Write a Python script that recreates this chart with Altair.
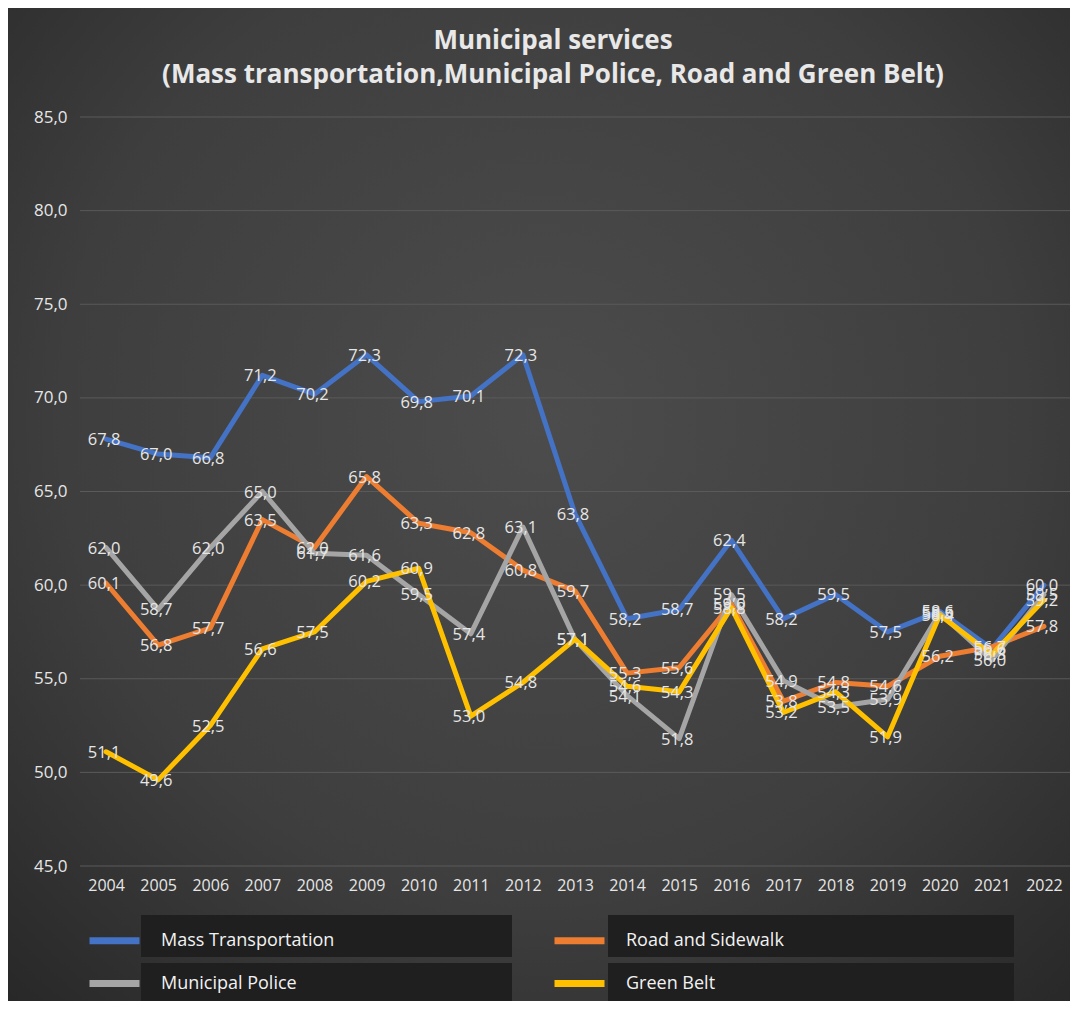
import altair as alt
import pandas as pd

years = [str(y) for y in range(2004, 2023)]
series_names = ["Mass Transportation", "Road and Sidewalk", "Municipal Police", "Green Belt"]
mass = [67.8, 67.0, 66.8, 71.2, 70.2, 72.3, 69.8, 70.1, 72.3, 63.8, 58.2, 58.7, 62.4, 58.2, 59.5, 57.5, 58.6, 56.6, 60.0]
road = [60.1, 56.8, 57.7, 63.5, 62.0, 65.8, 63.3, 62.8, 60.8, 59.7, 55.3, 55.6, 59.0, 53.8, 54.8, 54.6, 56.2, 56.7, 57.8]
police = [62.0, 58.7, 62.0, 65.0, 61.7, 61.6, 59.5, 57.4, 63.1, 57.1, 54.1, 51.8, 59.5, 54.9, 53.5, 53.9, 58.5, 56.0, 59.5]
green = [51.1, 49.6, 52.5, 56.6, 57.5, 60.2, 60.9, 53.0, 54.8, 57.1, 54.6, 54.3, 58.8, 53.2, 54.3, 51.9, 58.4, 56.3, 59.2]
y_ticks = [45, 50, 55, 60, 65, 70, 75, 80, 85]
colors = ["#4472C4", "#ED7D31", "#A5A5A5", "#FFC000"]
title_lines = ["Municipal services", "(Mass transportation,Municipal Police, Road and Green Belt)"]

rows = []
for name, vals in zip(series_names, [mass, road, police, green]):
    for yr, v in zip(years, vals):
        rows.append({"year": yr, "value": v, "series": name})
df = pd.DataFrame(rows)
ticks_df = pd.DataFrame({"tick": y_ticks})

W, H = 990, 749
PAD = {"left": 72, "top": 109, "right": 0, "bottom": 135}
FONT = "Open Sans"
TXT = "#e6e6e6"

x_enc = alt.X("year:O", scale=alt.Scale(type="point", padding=0.5),
              axis=alt.Axis(title=None, labelAngle=0, domain=False, ticks=False, grid=False,
                            labelPadding=11, labelFontSize=16, labelColor=TXT, labelFont=FONT,
                            zindex=1))
y_scale = alt.Scale(domain=[45, 85], nice=False, zero=False)
y_axis = alt.Axis(title=None, values=y_ticks, domain=False, ticks=False, grid=False,
                  labelExpr="replace(format(datum.value, '.1f'), '.', ',')",
                  labelPadding=13, labelFontSize=17, labelColor=TXT, labelFont=FONT,
                  zindex=1)
y_enc = alt.Y("value:Q", scale=y_scale, axis=y_axis)
color_enc = alt.Color("series:N",
                      scale=alt.Scale(domain=series_names, range=colors),
                      legend=alt.Legend(orient="none", legendX=6, legendY=795, direction="horizontal",
                                        columns=2, symbolType="stroke", symbolStrokeWidth=7,
                                        symbolSize=2500, labelFontSize=18, labelColor="#f2f2f2",
                                        labelFont=FONT, labelOffset=18, columnPadding=205,
                                        rowPadding=-9, title=None, labelLimit=400))

one = pd.DataFrame({"a": [0]})
bg = alt.Chart(one).mark_rect(
    color=alt.RadialGradient(gradient="radial", x1=0.5, y1=0.42, r1=0.0, x2=0.5, y2=0.42, r2=0.75,
                             stops=[alt.GradientStop(offset=0, color="#4c4c4c"),
                                    alt.GradientStop(offset=0.6, color="#3e3e3e"),
                                    alt.GradientStop(offset=1, color="#272727")])
).encode(x=alt.value(-PAD["left"]), x2=alt.value(W + 8), y=alt.value(-PAD["top"]), y2=alt.value(H + PAD["bottom"]))

grid = alt.Chart(ticks_df).mark_rule(color="#5a5a5a", strokeWidth=1).encode(
    y=alt.Y("tick:Q", scale=y_scale, axis=y_axis))

boxes = []
for bx1, bx2, by1, by2 in [(61, 432, 798, 840), (528, 934, 798, 840), (61, 432, 846, 885), (528, 934, 846, 885)]:
    boxes.append(alt.Chart(one).mark_rect(color="#1f1f1f").encode(
        x=alt.value(bx1), x2=alt.value(bx2), y=alt.value(by1), y2=alt.value(by2)))

lines = []
for name in series_names:
    lines.append(alt.Chart(df).transform_filter(alt.datum.series == name).mark_line(
        strokeWidth=5, strokeJoin="round", strokeCap="round").encode(x=x_enc, y=y_enc, color=color_enc))

labels = alt.Chart(df).transform_calculate(
    label="replace(format(datum.value, '.1f'), '.', ',')"
).mark_text(font=FONT, fontSize=16.5, color=TXT, dx=-2, dy=1).encode(
    x=x_enc, y=y_enc, text="label:N")

chart = alt.layer(bg, grid, *boxes, *lines, labels).properties(
    width=W, height=H,
    padding=PAD,
    autosize=alt.AutoSizeParams(type="none"),
    background="#2e2e2e",
    title=alt.TitleParams(text=title_lines, fontSize=26, font=FONT, fontWeight="bold", color="#e8e8e8",
                          anchor="middle", frame="group", dx=-22, offset=-80, lineHeight=34),
).configure_view(strokeWidth=0)

chart.save("out.html", embed_options={"renderer": "svg", "actions": False})
